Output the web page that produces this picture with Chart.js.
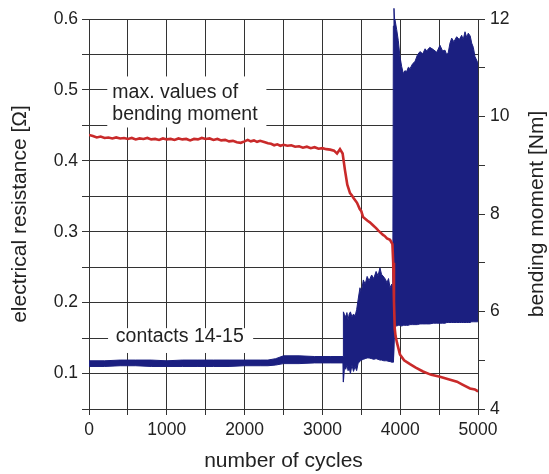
<!DOCTYPE html>
<html>
<head>
<meta charset="utf-8">
<script src="https://cdn.jsdelivr.net/npm/chart.js@4.4.1/dist/chart.umd.min.js"></script>
<style>
  html, body { margin: 0; padding: 0; background: #fff; }
  #wrap { width: 549px; height: 474px; }
</style>
</head>
<body>
<div id="wrap"><canvas id="chart" width="549" height="474"></canvas></div>
<script>
// contacts 14-15: resistance band (min / max envelope), ohm
const bandCycles = [0, 200, 400, 600, 800, 1000, 1200, 1400, 1600, 1800, 2000, 2200, 2300,
  2400, 2500, 2700, 2900, 3100, 3265,
  3270, 3285, 3300, 3315, 3330, 3345, 3360, 3380, 3400, 3420, 3440, 3460, 3483, 3500,
  3526, 3550, 3575, 3600, 3633, 3660, 3690, 3715, 3740, 3760, 3790, 3810, 3830, 3850,
  3869, 3890, 3905, 3912, 3920, 3928,
  3933, 3955, 3975, 3997, 4019, 4040, 4060, 4083, 4105, 4126, 4160, 4190, 4220, 4254,
  4290, 4320, 4340, 4380, 4425, 4470, 4511, 4545, 4576, 4600, 4618, 4640, 4662, 4690,
  4726, 4760, 4790, 4810, 4833, 4855, 4875, 4900, 4919, 4940, 4961, 4991, 5000];
const bandHigh = [0.118, 0.118, 0.119, 0.119, 0.119, 0.118, 0.119, 0.119, 0.119, 0.119, 0.119, 0.119, 0.119,
  0.121, 0.125, 0.125, 0.124, 0.124, 0.124,
  0.187, 0.183, 0.180, 0.186, 0.176, 0.184, 0.187, 0.180, 0.184, 0.181, 0.190, 0.205, 0.221, 0.214,
  0.232, 0.226, 0.237, 0.231, 0.239, 0.234, 0.244, 0.238, 0.249, 0.240, 0.236, 0.233, 0.228, 0.234,
  0.221, 0.226, 0.222, 0.590, 0.615, 0.600,
  0.599, 0.585, 0.570, 0.547, 0.533, 0.523, 0.527, 0.526, 0.532, 0.530, 0.537, 0.540, 0.549, 0.554,
  0.551, 0.558, 0.555, 0.560, 0.557, 0.553, 0.563, 0.555, 0.556, 0.549, 0.553, 0.566, 0.573, 0.568,
  0.575, 0.571, 0.577, 0.571, 0.582, 0.574, 0.580, 0.576, 0.566, 0.560, 0.547, 0.540, 0.538];
const bandLow = [0.110, 0.110, 0.111, 0.111, 0.110, 0.110, 0.110, 0.110, 0.110, 0.110, 0.111, 0.111, 0.111,
  0.112, 0.114, 0.114, 0.115, 0.115, 0.115,
  0.088, 0.110, 0.106, 0.112, 0.104, 0.108, 0.100, 0.112, 0.103, 0.110, 0.104, 0.115, 0.117, 0.119,
  0.120, 0.121, 0.122, 0.122, 0.121, 0.120, 0.121, 0.120, 0.119, 0.119, 0.118, 0.118, 0.118, 0.117,
  0.117, 0.116, 0.116, 0.116, 0.116, 0.168,
  0.168, 0.167, 0.168, 0.168, 0.167, 0.168, 0.168, 0.168, 0.168, 0.169, 0.169, 0.169, 0.169, 0.170,
  0.170, 0.170, 0.170, 0.170, 0.171, 0.171, 0.171, 0.171, 0.171, 0.172, 0.172, 0.172, 0.172, 0.172,
  0.172, 0.172, 0.172, 0.172, 0.172, 0.172, 0.172, 0.172, 0.173, 0.173, 0.173, 0.173, 0.173];

// max. values of bending moment, Nm
const momentCycles = [0, 50, 100, 150, 200, 250, 300, 350, 400, 450, 500, 550, 600, 650, 700, 750,
  800, 850, 900, 950, 1000, 1050, 1100, 1150, 1200, 1250, 1300, 1350, 1400, 1450, 1500, 1550,
  1600, 1650, 1700, 1750, 1800, 1850, 1900, 1950, 2000, 2040, 2080, 2120, 2160, 2200, 2262,
  2300, 2340, 2380, 2420, 2460, 2500, 2550, 2600, 2650, 2700, 2750, 2800, 2850, 2900, 2950,
  3000, 3050, 3100, 3150, 3188, 3226, 3260, 3290, 3320, 3355, 3380, 3400, 3445, 3480, 3500,
  3522, 3580, 3610, 3650, 3690, 3720, 3779, 3800, 3830, 3869, 3900, 3910, 3920, 3930, 3940,
  3960, 3997, 4050, 4126, 4200, 4293, 4400, 4511, 4620, 4730, 4800, 4897, 4960, 4990, 5000];
const momentValues = [9.62, 9.60, 9.57, 9.59, 9.56, 9.57, 9.55, 9.57, 9.55, 9.56, 9.54, 9.56, 9.53, 9.55, 9.54, 9.56,
  9.53, 9.54, 9.52, 9.55, 9.53, 9.54, 9.52, 9.55, 9.53, 9.54, 9.51, 9.54, 9.53, 9.56, 9.54, 9.55,
  9.52, 9.54, 9.51, 9.52, 9.49, 9.50, 9.47, 9.46, 9.49, 9.52, 9.49, 9.51, 9.48, 9.50, 9.47,
  9.45, 9.44, 9.41, 9.43, 9.40, 9.42, 9.40, 9.41, 9.38, 9.39, 9.36, 9.38, 9.35, 9.37, 9.34,
  9.35, 9.33, 9.32, 9.30, 9.24, 9.33, 9.24, 8.90, 8.60, 8.43, 8.38, 8.33, 8.23, 8.10, 8.06,
  7.94, 7.86, 7.83, 7.77, 7.71, 7.66, 7.57, 7.55, 7.50, 7.47, 7.38, 7.00, 6.20, 5.65, 5.50,
  5.35, 5.12, 5.00, 4.92, 4.85, 4.77, 4.70, 4.66, 4.61, 4.56, 4.50, 4.42, 4.40, 4.37, 4.38];

const navy = '#1b1f80';
const red = '#c92a2a';
const ink = '#222';
const gridCol = '#333';
const family = "'Liberation Sans', Arial, sans-serif";

const pairs = (xs, ys) => xs.map((x, i) => ({ x: x, y: ys[i] }));

// white-backed labels inside the plot plus the right axis title
const notes = {
  id: 'notes',
  afterDatasetsDraw(chart) {
    const { ctx, scales, chartArea } = chart;
    const sx = scales.x, sy = scales.y;
    ctx.save();
    ctx.fillStyle = '#fff';
    // box behind "max. values of bending moment"
    let l = sx.getPixelForValue(235), r = sx.getPixelForValue(2280);
    let t = sy.getPixelForValue(0.519), b = sy.getPixelForValue(0.447);
    ctx.fillRect(l, t, r - l, b - t);
    // box behind "contacts 14-15"
    l = sx.getPixelForValue(245); r = sx.getPixelForValue(2110);
    t = sy.getPixelForValue(0.164); b = sy.getPixelForValue(0.129);
    ctx.fillRect(l, t, r - l, b - t);

    ctx.fillStyle = ink;
    ctx.font = '19.5px ' + family;
    ctx.textAlign = 'left';
    ctx.textBaseline = 'middle';
    ctx.fillText('max. values of', sx.getPixelForValue(300), sy.getPixelForValue(0.4956));
    ctx.fillText('bending moment', sx.getPixelForValue(300), sy.getPixelForValue(0.4646));
    ctx.fillText('contacts 14-15', sx.getPixelForValue(345), sy.getPixelForValue(0.1515));

    // right axis title, reading bottom to top
    ctx.translate(chart.width - 12, (chartArea.top + chartArea.bottom) / 2);
    ctx.rotate(-Math.PI / 2);
    ctx.textAlign = 'center';
    ctx.font = '21px ' + family;
    ctx.fillText('bending moment [Nm]', 0, 0);
    ctx.restore();
  }
};

const tickFont = { family: family, size: 17.5 };
const titleFont = { family: family, size: 21 };

new Chart(document.getElementById('chart'), {
  type: 'line',
  data: {
    datasets: [
      {
        label: 'bending moment',
        data: pairs(momentCycles, momentValues),
        yAxisID: 'y1',
        borderColor: red,
        borderWidth: 2.6,
        pointRadius: 0,
        fill: false,
        tension: 0,
        order: 0
      },
      {
        label: 'contacts 14-15 max',
        data: pairs(bandCycles, bandHigh),
        yAxisID: 'y',
        borderColor: navy,
        backgroundColor: navy,
        borderWidth: 1,
        pointRadius: 0,
        fill: '+1',
        tension: 0,
        clip: { left: 0, top: 12, right: 0, bottom: 0 },
        order: 1
      },
      {
        label: 'contacts 14-15 min',
        data: pairs(bandCycles, bandLow),
        yAxisID: 'y',
        borderColor: navy,
        borderWidth: 1,
        pointRadius: 0,
        fill: false,
        tension: 0,
        order: 1
      }
    ]
  },
  options: {
    responsive: false,
    animation: false,
    devicePixelRatio: 1,
    layout: { padding: { top: 19, left: 0, right: 0, bottom: 0 } },
    plugins: { legend: { display: false }, tooltip: { enabled: false } },
    scales: {
      x: {
        type: 'linear',
        min: 0,
        max: 5000,
        ticks: {
          stepSize: 500,
          autoSkip: false,
          maxRotation: 0,
          color: ink,
          font: tickFont,
          padding: 5,
          callback: v => (v % 1000 === 0 ? String(v) : '')
        },
        grid: { color: gridCol, lineWidth: 1, tickLength: 6 },
        border: { color: gridCol, width: 1 },
        title: { display: true, text: 'number of cycles', color: ink, font: titleFont, padding: { top: 2, bottom: 0 } },
        afterFit: s => { s.height = 65; }
      },
      y: {
        position: 'left',
        min: 0.05,
        max: 0.6,
        ticks: {
          stepSize: 0.05,
          autoSkip: false,
          color: ink,
          font: tickFont,
          padding: 4,
          callback: v => (Math.round(v * 100) % 10 === 0 ? v.toFixed(1) : '')
        },
        grid: { color: gridCol, lineWidth: 1, tickLength: 7 },
        border: { color: gridCol, width: 1 },
        title: { display: true, text: 'electrical resistance [Ω]', color: ink, font: titleFont, padding: { top: 8, bottom: 0 } },
        afterFit: s => { s.width = 89; }
      },
      y1: {
        position: 'right',
        min: 4,
        max: 12,
        ticks: {
          stepSize: 1,
          autoSkip: false,
          color: ink,
          font: tickFont,
          padding: 5,
          callback: v => (v % 2 === 0 ? String(v) : '')
        },
        grid: { drawOnChartArea: false, color: gridCol, lineWidth: 1, tickLength: 7 },
        border: { color: gridCol, width: 1 },
        afterFit: s => { s.width = 71; }
      }
    }
  },
  plugins: [notes]
});
</script>
</body>
</html>
